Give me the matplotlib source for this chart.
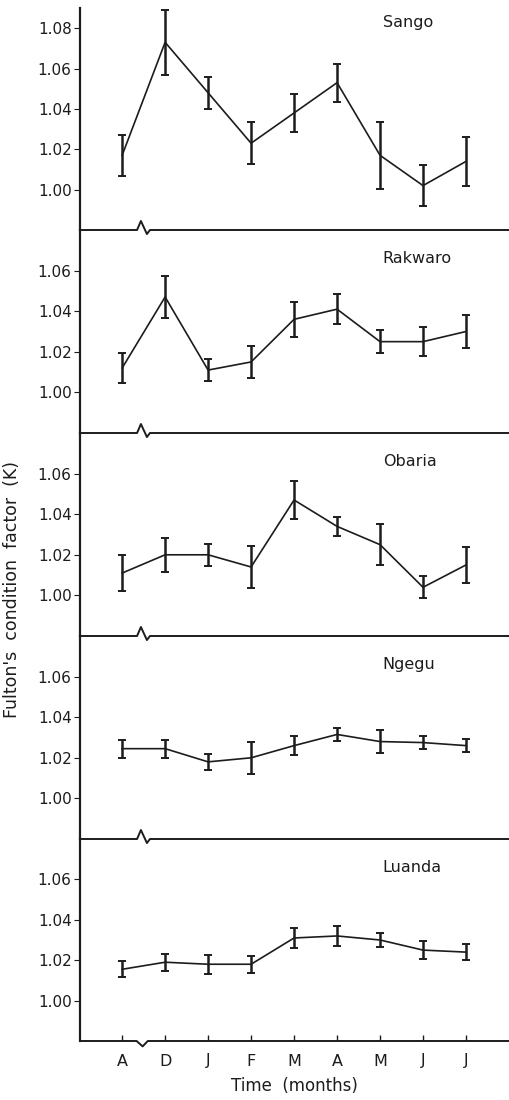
import numpy as np
import matplotlib
matplotlib.use("Agg")
import matplotlib.pyplot as plt

# months (Aug .. Jul)
months = ["A", "D", "J", "F", "M", "A", "M", "J", "J"]

sites = ["Sango", "Rakwaro", "Obaria", "Ngegu", "Luanda"]

sango_k = [1.017, 1.073, 1.048, 1.023, 1.038, 1.053, 1.017, 1.002, 1.014]
sango_se = [0.010, 0.016, 0.008, 0.0105, 0.0095, 0.0095, 0.0165, 0.010, 0.012]

rakwaro_k = [1.012, 1.047, 1.011, 1.015, 1.036, 1.041, 1.025, 1.025, 1.030]
rakwaro_se = [0.0075, 0.0105, 0.0055, 0.008, 0.0085, 0.0075, 0.0055, 0.007, 0.008]

obaria_k = [1.011, 1.020, 1.020, 1.014, 1.047, 1.034, 1.025, 1.004, 1.015]
obaria_se = [0.009, 0.0085, 0.0055, 0.0105, 0.0095, 0.0045, 0.010, 0.0055, 0.009]

ngegu_k = [1.0245, 1.0245, 1.018, 1.020, 1.026, 1.0315, 1.028, 1.0275, 1.026]
ngegu_se = [0.0045, 0.0045, 0.004, 0.008, 0.0047, 0.003, 0.0055, 0.003, 0.0033]

luanda_k = [1.0155, 1.019, 1.018, 1.018, 1.031, 1.032, 1.030, 1.025, 1.024]
luanda_se = [0.004, 0.0042, 0.0046, 0.0042, 0.005, 0.0048, 0.0035, 0.0044, 0.0038]

all_k = [sango_k, rakwaro_k, obaria_k, ngegu_k, luanda_k]
all_se = [sango_se, rakwaro_se, obaria_se, ngegu_se, luanda_se]

# y ticks: first panel goes up to 1.08, the rest to 1.06
ticks_first = [1.00, 1.02, 1.04, 1.06, 1.08]
ticks_rest = [1.00, 1.02, 1.04, 1.06]

ink = "#1c1c1c"
plt.rcParams['font.family'] = ['DejaVu Sans']

W, H = 509, 1100
fig = plt.figure(figsize=(W / 100, H / 100), dpi=100)
fig.patch.set_facecolor("white")

# panel edges in pixels (top -> bottom)
edges = [8, 230, 433, 636, 839, 1041]
x_left, x_right = 80, 509

x = np.arange(len(months))
axes = []
for i in range(5):
    top, bot = edges[i], edges[i + 1]
    ax = fig.add_axes([x_left / W, 1 - bot / H, (x_right - x_left) / W, (bot - top) / H])
    ax.patch.set_visible(False)
    axes.append(ax)

    ax.errorbar(x, all_k[i], yerr=all_se[i], color=ink, lw=1.2,
                elinewidth=1.8, capsize=3.2, capthick=1.4)

    ax.set_xlim(-0.98, 9.0)
    if i == 0:
        ax.set_ylim(0.98, 1.09)
        ax.set_yticks(ticks_first)
    else:
        ax.set_ylim(0.98, 1.08)
        ax.set_yticks(ticks_rest)
    ax.set_yticklabels(["%.2f" % t for t in ax.get_yticks()])

    for s in ["top", "right", "bottom"]:
        ax.spines[s].set_visible(False)
    ax.spines["left"].set_linewidth(1.6)
    ax.spines["left"].set_color(ink)
    ax.tick_params(axis="y", direction="out", length=4, width=0.8, pad=2,
                   labelsize=11, colors=ink)

    # site name
    ty = 0.935 if i == 0 else 0.86
    ax.text(0.706, ty, sites[i], transform=ax.transAxes, ha="left", va="center",
            fontsize=11.5, color=ink)

    # baseline with the little axis-break zigzag
    h_px = (bot - top)
    a = 9.0 / h_px
    if i < 4:
        xs = [0, 0.133, 0.142, 0.156, 0.163, 1.0]
        ys = [0, 0, a, -a * 0.45, 0, 0]
    else:
        xs = [0, 0.132, 0.146, 0.158, 1.0]
        ys = [0, 0, -a * 0.6, 0, 0]
    ax.plot(xs, ys, transform=ax.transAxes, clip_on=False, color=ink, lw=1.4,
            zorder=5)

    if i < 4:
        ax.set_xticks([])
    else:
        ax.set_xticks(x)
        ax.set_xticklabels(months)
        ax.tick_params(axis="x", direction="in", length=4, width=1.0, pad=9,
                       labelsize=11.5, colors=ink)
        ax.set_xlabel("Time  (months)", fontsize=12, color=ink, labelpad=6)

fig.text(12 / W, 1 - 589 / H, "Fulton's  condition  factor  (K)", rotation=90,
         ha="center", va="center", fontsize=12.5, color=ink)

fig.savefig("out.png", dpi=100)
